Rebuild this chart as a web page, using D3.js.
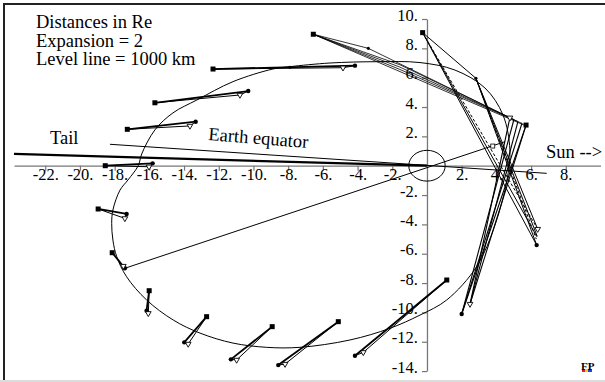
<!DOCTYPE html>
<html><head><meta charset="utf-8">
<script src="https://cdn.jsdelivr.net/npm/d3@7"></script>
<style>
html,body{margin:0;padding:0;background:#fff;}
svg{display:block;}
text{font-family:"Liberation Serif","Times New Roman",Times,"DejaVu Serif",serif !important;fill:#000;}
</style>
</head><body>
<svg id="c" width="605" height="382"></svg>
<script>
// ---------- data ----------
const xTickValues = [-22,-20,-18,-16,-14,-12,-10,-8,-6,-4,-2,2,4,6,8];
const yTickValues = [10,8,6,4,2,-2,-4,-6,-8,-10,-12,-14];
const noteLines = ["Distances in Re","Expansion = 2","Level line = 1000 km"];

// orbit trace (closed)
const orbit = [
 [-2.90,7.09],[-5.59,7.00],[-7.90,6.75],[-8.88,6.59],[-11.18,5.73],[-13.26,4.48],
 [-14.64,3.60],[-15.68,2.44],[-16.44,0.80],[-16.64,0.00],[-17.23,-0.97],[-17.69,-1.66],
 [-18.10,-3.02],[-18.17,-3.93],[-18.10,-5.07],[-17.88,-6.20],[-17.31,-7.57],[-16.16,-9.15],
 [-14.62,-10.52],[-13.08,-11.41],[-11.18,-12.09],[-9.24,-12.38],[-7.32,-12.38],[-4.44,-11.88],
 [-2.13,-11.08],[-0.40,-10.18],[1.14,-9.15],[2.86,-6.88],[3.92,-4.04],[4.61,-0.97],
 [4.78,1.07],[4.38,3.46],[3.34,5.30],[1.61,6.52],[-0.40,7.03]
];

// level-line glyphs along the orbit: start (square), end (dot), tip (open triangle)
const glyphSquare = [[-12.33,6.59],[-15.68,4.29],[-17.27,2.48],[-18.54,0.00],[-18.95,-2.95],
 [-18.14,-5.93],[-16.01,-8.52],[-12.70,-10.29],[-8.92,-10.97],[-5.11,-10.63],[1.14,-7.79]];
const glyphDot = [[-4.15,6.82],[-10.30,5.09],[-13.33,3.00],[-15.81,0.16],[-17.31,-3.29],
 [-17.41,-6.99],[-16.16,-9.88],[-13.99,-12.04],[-11.30,-13.20],[-8.57,-13.59],[-4.15,-12.95]];
const glyphTip = [[-4.84,6.68],[-10.78,4.82],[-13.66,2.71],[-16.02,-0.07],[-17.41,-3.59],
 [-17.50,-6.84],[-16.06,-10.06],[-13.76,-12.15],[-10.97,-13.24],[-8.18,-13.52],[-3.67,-12.72]];

// big bundles near perigee
const bundleTop = [
 [[-6.55,8.96],[-3.38,8.00],[4.78,3.27]],
 [[-6.55,8.96],[-1.56,6.88],[5.01,3.15]],
 [[-6.55,8.96],[-1.56,6.72],[5.24,3.01]],
 [[-6.55,8.96],[-1.56,6.56],[5.48,2.88]],
 [[-6.55,8.96],[5.71,2.71]]
];
const bundleDown = [
 [[5.71,2.77],[2.00,-10.11]],[[5.71,2.77],[2.48,-9.43]],
 [[5.48,2.91],[2.00,-10.11]],[[5.24,3.01],[2.48,-9.43]],
 [[5.01,3.15],[2.00,-10.11]],[[4.78,3.27],[2.48,-9.43]]
];
const bundleRight = [
 [[-0.25,9.07],[6.32,-5.41]],
 [[-0.25,9.07],[6.34,-4.85]],
 [[-0.25,9.07],[2.82,5.96]],
 [[2.82,5.96],[6.32,-5.41]],
 [[2.82,5.96],[6.38,-4.32]],
 [[2.82,5.96],[6.35,-4.80]]
];
const bundleRightDashed = [[[-0.25,9.07],[6.38,-4.32]],[[2.82,5.96],[6.30,-5.00]]];
const extraSquares = [[-6.55,8.96],[5.71,2.77],[-0.25,9.07]];
const extraDots = [[2.00,-10.11],[6.32,-5.41]];
const midDots = [[-7.90,6.71],[-3.38,8.00],[2.82,5.96]];
const extraTips = [[2.48,-9.43],[4.78,3.27],[6.38,-4.32]];

const tailLine = [[-23.8,0.80],[0,0]];
const equatorLine = [[-18.27,1.46],[6.90,-0.52]];
const axisLine = [[-17.41,-6.99],[4.50,1.64]];
const axisMarker = [3.79,1.34];
const earthRadius = 1.05;

// ---------- drawing ----------
const svg = d3.select("#c");
const x = d3.scaleLinear().domain([-23.8,10]).range([14,600.5]);
const y = d3.scaleLinear().domain([-14,10]).range([371.1,19]);
const line = d3.line().x(d=>x(d[0])).y(d=>y(d[1]));

// frame
svg.append("rect").attr("x",0).attr("y",380).attr("width",605).attr("height",2).attr("fill","#dcdcdc");
svg.append("line").attr("x1",3).attr("x2",605).attr("y1",4).attr("y2",4).attr("stroke","#222").attr("stroke-width",2);
svg.append("line").attr("x1",4).attr("x2",4).attr("y1",3).attr("y2",380).attr("stroke","#222").attr("stroke-width",2);

// axes
const xAxis = d3.axisBottom(x).tickValues(xTickValues).tickFormat(d=>d+".").tickSize(5).tickSizeOuter(0);
const gx = svg.append("g").attr("transform",`translate(0,${y(0)})`).call(xAxis);
const yAxis = d3.axisLeft(y).tickValues(yTickValues).tickFormat(d=>d+".").tickSize(5).tickSizeOuter(0);
const gy = svg.append("g").attr("transform",`translate(${x(0)},0)`).call(yAxis);
[gx,gy].forEach(g=>{
  g.attr("font-family",null);
  g.select(".domain").attr("stroke","#777").attr("stroke-width",1.3);
  g.selectAll(".tick line").attr("stroke","#777").attr("stroke-width",1.2);
  g.selectAll(".tick text").attr("font-size",16.5).attr("fill","#000");
});
gx.selectAll(".tick text").attr("y",14.5).attr("dy",0);
gy.selectAll(".tick text").attr("x",-9).attr("dy",1);

// earth
svg.append("ellipse").attr("cx",x(0)).attr("cy",y(0))
  .attr("rx",x(earthRadius)-x(0)).attr("ry",y(0)-y(earthRadius))
  .attr("fill","none").attr("stroke","#000").attr("stroke-width",1);

// reference lines
svg.append("path").attr("d",line(tailLine)).attr("stroke","#000").attr("stroke-width",2.2).attr("fill","none");
svg.append("path").attr("d",line(equatorLine)).attr("stroke","#000").attr("stroke-width",1).attr("fill","none");
svg.append("path").attr("d",line(axisLine)).attr("stroke","#000").attr("stroke-width",1).attr("fill","none");
svg.append("rect").attr("x",x(axisMarker[0])-2).attr("y",y(axisMarker[1])-2).attr("width",4).attr("height",4)
  .attr("fill","#fff").attr("stroke","#000").attr("stroke-width",0.8);

// orbit
svg.append("path").datum(orbit).attr("d",d3.line().x(d=>x(d[0])).y(d=>y(d[1])).curve(d3.curveCatmullRomClosed))
  .attr("fill","none").attr("stroke","#000").attr("stroke-width",1);

// glyph wedges
const gg = svg.append("g").attr("fill","none").attr("stroke","#000");
glyphSquare.forEach((s,i)=>{
  const d = glyphDot[i], t = glyphTip[i];
  gg.append("path").attr("d",line([s,d])).attr("stroke-width",1.8);
  gg.append("path").attr("d",line([s,t])).attr("stroke-width",1);
  gg.append("path").attr("d",line([d,t])).attr("stroke-width",1);
});
bundleTop.forEach(r=>gg.append("path").attr("d",line(r)).attr("stroke-width",0.8));
bundleDown.forEach(r=>gg.append("path").attr("d",line(r)).attr("stroke-width",1.1));
bundleRight.forEach(r=>gg.append("path").attr("d",line(r)).attr("stroke-width",1));
bundleRightDashed.forEach(r=>gg.append("path").attr("d",line(r)).attr("stroke-width",1).attr("stroke-dasharray","3,2"));

// markers
const allSquares = glyphSquare.concat(extraSquares);
svg.append("g").selectAll("rect").data(allSquares).join("rect")
  .attr("x",d=>x(d[0])-2.5).attr("y",d=>y(d[1])-2.5).attr("width",5).attr("height",5).attr("fill","#000");
const allDots = glyphDot.concat(extraDots);
svg.append("g").selectAll("circle").data(allDots).join("circle")
  .attr("cx",d=>x(d[0])).attr("cy",d=>y(d[1])).attr("r",2.2).attr("fill","#000");
svg.append("g").selectAll("circle").data(midDots).join("circle")
  .attr("cx",d=>x(d[0])).attr("cy",d=>y(d[1])).attr("r",1.6).attr("fill","#000");
const tri = d3.symbol().type(d3.symbolTriangle).size(14);
svg.append("g").selectAll("path").data(glyphTip.concat(extraTips)).join("path")
  .attr("d",tri).attr("transform",d=>`translate(${x(d[0])},${y(d[1])}) rotate(180)`)
  .attr("fill","#fff").attr("stroke","#000").attr("stroke-width",0.9);

// texts
svg.append("g").selectAll("text").data(noteLines).join("text")
  .attr("x",36).attr("y",(d,i)=>28+i*18.6).attr("font-size",18.5).text(d=>d);
svg.append("text").attr("x",50).attr("y",144).attr("font-size",18.5).text("Tail");
svg.append("text").attr("transform","translate(208,140) rotate(4.6)").attr("font-size",18.5).text("Earth equator");
svg.append("text").attr("x",546).attr("y",158).attr("font-size",18.5).text("Sun -->");

// logo
const lg = svg.append("g").attr("transform","translate(581,372)");
lg.append("rect").attr("x",1).attr("y",-3).attr("width",3).attr("height",3).attr("fill","#e02020");
lg.append("rect").attr("x",4).attr("y",-3).attr("width",3).attr("height",3).attr("fill","#f0d000");
lg.append("rect").attr("x",7).attr("y",-3).attr("width",4).attr("height",3).attr("fill","#2040e0");
lg.append("text").attr("x",0).attr("y",-2).attr("font-size",11).attr("font-weight","bold").text("FP");
</script>
</body></html>
